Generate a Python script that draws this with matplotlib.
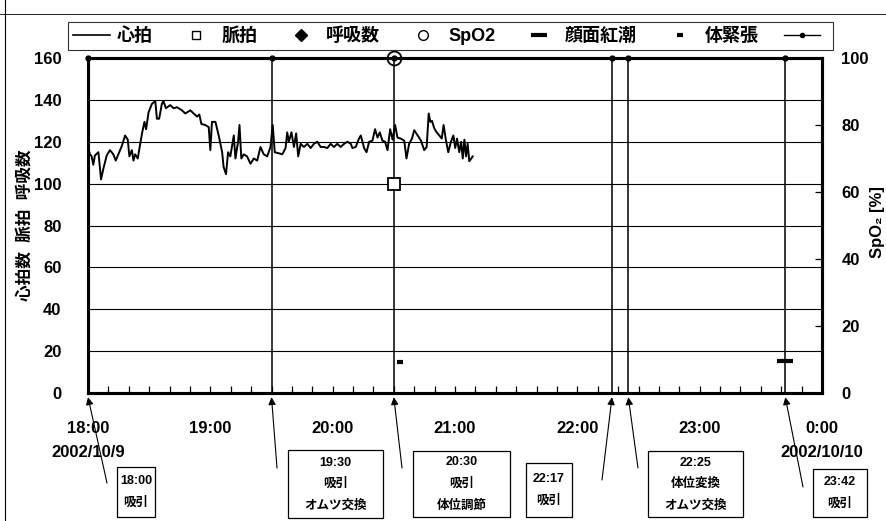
import matplotlib
matplotlib.use("Agg")
import matplotlib.pyplot as plt
from matplotlib.lines import Line2D
from matplotlib.patches import Rectangle

plt.rcParams['font.family'] = ['Liberation Sans', 'Noto Sans CJK JP', 'DejaVu Sans']
plt.rcParams['font.weight'] = 'bold'
plt.rcParams['axes.labelweight'] = 'bold'

# time axis: minutes after 18:00 (2002/10/9)
hr_min = [0, 1.0, 1.8, 2.6, 3.4, 5.1, 6.4, 7.5, 9.2, 10.8, 12.4, 13.6, 14.9, 16.6, 18.2,
          19.5, 20.3, 21.5, 22.3, 23.1, 24.4, 25.6, 26.7, 27.7, 28.5, 29.7, 31.3, 33.0,
          33.8, 34.9, 36.2, 37.0, 38.2, 40.3, 42.0, 43.6, 46.1, 47.7, 50.2, 51.8, 53.5,
          54.6, 55.6, 57.5, 59.2, 60.0, 60.8, 62.5, 64.1, 65.8, 66.5, 67.7, 68.7, 69.8,
          71.5, 72.3, 73.6, 74.3, 75.2, 76.4, 78.0, 79.7, 81.3, 83.0, 84.6, 86.2, 87.9,
          89.5, 90.6, 91.6, 93.6, 95.3, 96.9, 97.7, 98.5, 99.8, 101.0, 102.1, 103.1,
          104.3, 105.9, 107.6, 109.2, 110.8, 112.5, 114.1, 115.7, 117.4, 119.0, 120.6,
          122.3, 123.9, 125.6, 127.2, 128.9, 129.7, 131.3, 132.9, 133.8, 135.4, 136.6,
          137.9, 139.5, 140.8, 142.0, 143.1, 144.4, 145.7, 146.9, 148.2, 149.4, 150.6,
          151.8, 153.4, 155.1, 156.2, 157.5, 158.9, 160.0, 161.7, 163.3, 164.9, 166.1,
          167.1, 167.9, 168.7, 169.8, 171.0, 172.3, 173.5, 174.4, 175.6, 176.7, 178.0,
          179.2, 180.1, 181.0, 182.1, 183.0, 183.8, 184.6, 185.4, 186.2, 187.0, 188.7]
hr_val = [117, 114, 113, 109, 113.5, 115, 102, 107, 113.5, 116, 114, 111, 114, 118, 123,
          121, 113, 116, 111, 114, 112, 119, 125, 129.5, 126, 134, 138, 139.5,
          131, 131, 138, 139.5, 136, 137.5, 136, 136.5, 135, 133.5, 135, 133.5, 132,
          133, 128.5, 128, 127, 116, 129.5, 129.5, 123, 115, 108, 104.5, 115, 113,
          123, 112, 120, 128, 112, 114, 113, 109.5, 112, 111, 117.5, 114, 113,
          117.5, 128, 115, 114.5, 114, 117, 124.5, 120, 124.5, 117.5, 124, 113,
          119, 117.5, 119, 117, 119, 120, 117.5, 117.5, 117, 119, 117.5,
          119, 117.5, 119, 120, 119, 117, 117.5, 121.5, 123, 117, 115,
          120, 120.5, 126, 122, 124.5, 120.5, 120, 116, 126, 121, 128,
          122, 121.5, 120.5, 112, 119, 121.5, 125.5, 123, 120.5, 116, 117.5,
          133.5, 129.5, 130, 126.5, 124.5, 123, 121.5, 128, 120.5, 115, 120,
          123, 117, 121.5, 115, 120, 112, 121, 113, 119, 110.7, 113]

pulse_min = [150]
pulse_val = [100]
resp_min = []
resp_val = []
spo2_min = [150]
spo2_val = [100]
flush_min = [342]
flush_val = [15.5]
tension_min = [153]
tension_val = [15]

event_min = [0, 90, 150, 257, 265, 342]
event_text = ["18:00\n吸引", "19:30\n吸引\nオムツ交換", "20:30\n吸引\n体位調節",
              "22:17\n吸引", "22:25\n体位変換\nオムツ交換", "23:42\n吸引"]

hour_ticks = [0, 60, 120, 180, 240, 300, 360]
hour_labels = ["18:00\n2002/10/9", "19:00", "20:00", "21:00", "22:00", "23:00",
               "0:00\n2002/10/10"]

W, H = 886, 521
fig = plt.figure(figsize=(W / 100, H / 100), dpi=100)
ax = fig.add_axes([88 / W, 1 - 393 / H, 734 / W, 335 / H])
ax2 = ax.twinx()

# event lines (dot on top)
for t in event_min:
    ax.plot([t, t], [0, 160], color='black', lw=1.1, marker='o', ms=3.5,
            markevery=[1], clip_on=False, zorder=3)

ax.plot(hr_min, hr_val, color='black', lw=1.4, zorder=4)
ax.plot(pulse_min, pulse_val, ls='none', marker='s', ms=8, mfc='white',
        mec='black', mew=1.3, zorder=5)
ax.plot(resp_min, resp_val, ls='none', marker='D', ms=6, color='black')
ax.plot(flush_min, flush_val, ls='none', marker='_', ms=12, mew=3,
        color='black', zorder=5)
ax.plot(tension_min, tension_val, ls='none', marker='_', ms=4.5, mew=3,
        color='black', zorder=5)
ax2.plot(spo2_min, spo2_val, ls='none', marker='o', ms=10, mfc='none',
         mec='black', mew=1.3, clip_on=False, zorder=5)

ax.set_xlim(0, 360)
ax.set_ylim(0, 160)
ax2.set_ylim(0, 100)

ax.set_yticks(range(0, 161, 20))
ax.grid(axis='y', color='black', lw=0.8)
ax.set_axisbelow(True)
ax.set_xticks(hour_ticks)
ax.set_xticklabels(hour_labels, fontsize=12, linespacing=1.75)
ax.set_xticks(range(0, 361, 10), minor=True)
ax.tick_params(axis='x', which='both', direction='in', length=5, width=0.9, pad=20)
ax.tick_params(axis='y', which='both', length=0, pad=19, labelsize=12)
ax2.set_yticks(range(0, 101, 20))
ax2.tick_params(axis='y', direction='in', length=5, width=0.9, pad=14, labelsize=12)

for a in (ax, ax2):
    for s in a.spines.values():
        s.set_linewidth(2.2)

ax.set_ylabel("心拍数  脈拍  呼吸数", fontsize=12)
ax.yaxis.set_label_coords(-0.076, 0.5)
ax2.set_ylabel("SpO₂ [%]", fontsize=12)
ax2.yaxis.set_label_coords(1.066, 0.51)

# legend
handles = [
    Line2D([], [], color='black', lw=1.2),
    Line2D([], [], ls='none', marker='s', ms=6, mfc='white', mec='black'),
    Line2D([], [], ls='none', marker='D', ms=6, color='black'),
    Line2D([], [], ls='none', marker='o', ms=7, mfc='white', mec='black'),
    Line2D([], [], ls='none', marker='_', ms=12, mew=3, color='black'),
    Line2D([], [], ls='none', marker='_', ms=4.5, mew=3, color='black'),
    Line2D([], [], color='black', lw=1.0, marker='o', ms=3),
]
labels = ["心拍", "脈拍", "呼吸数", "SpO2", "顔面紅潮", "体緊張", ""]
leg = fig.legend(handles, labels, loc='center', ncol=7,
                 bbox_to_anchor=((65 + 836) / 2 / W, 1 - 36 / H),
                 fontsize=13, frameon=True, fancybox=False, edgecolor='black',
                 handlelength=2.0, handletextpad=0.4, columnspacing=1.4,
                 borderpad=0.3)
leg.get_frame().set_linewidth(0.8)

# annotation boxes (pixel layout of the reference)
boxes = [(117, 155, 467, 517), (288, 383, 450, 518), (413, 510, 451, 517),
         (526, 572, 463, 517), (648, 743, 451, 517), (813, 867, 469, 517)]
tails = [(107, 483), (277, 468), (402, 468), (602, 480), (638, 468), (803, 487)]

for t, txt, (x0, x1, y0, y1), (tx, ty) in zip(event_min, event_text, boxes, tails):
    fig.add_artist(Rectangle((x0 / W, 1 - y1 / H), (x1 - x0) / W, (y1 - y0) / H,
                             transform=fig.transFigure, fc='white', ec='black',
                             lw=0.9))
    fig.text((x0 + x1) / 2 / W, 1 - (y0 + y1) / 2 / H, txt, ha='center',
             va='center', fontsize=9, linespacing=2.0)
    ax.annotate("", xy=(t, -2), xycoords='data', xytext=(tx, H - ty),
                textcoords='figure pixels', annotation_clip=False,
                arrowprops=dict(arrowstyle='-|>', color='black', lw=0.8,
                                mutation_scale=11, shrinkA=0, shrinkB=0))

# page frame lines from the scan
fig.add_artist(Line2D([5 / W, 5 / W], [0, 1], transform=fig.transFigure,
                      color='black', lw=0.8))
fig.add_artist(Line2D([0, 1], [1 - 14 / H, 1 - 14 / H], transform=fig.transFigure,
                      color='black', lw=0.6))

fig.savefig("out.png", dpi=100)
